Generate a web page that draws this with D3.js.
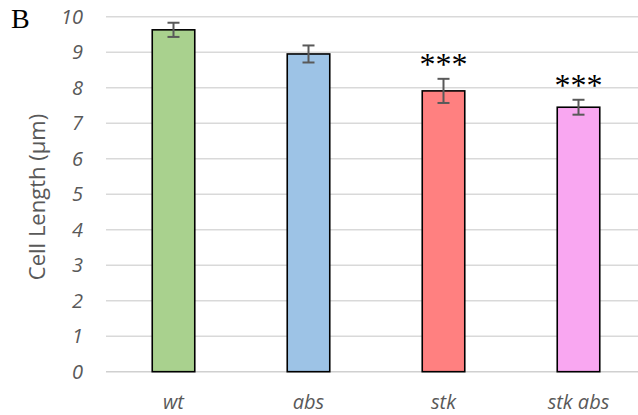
<!DOCTYPE html>
<html><head><meta charset="utf-8">
<script src="https://cdn.jsdelivr.net/npm/d3@7"></script>
<style>html,body{margin:0;padding:0;background:#fff;}</style>
</head><body>
<svg id="c" width="638" height="415"></svg>
<script>
const categories = ["wt", "abs", "stk", "stk abs"];
const values = [9.63, 8.95, 7.91, 7.45];
const errors = [0.20, 0.24, 0.34, 0.21];
const significance = ["", "", "***", "***"];
const colors = ["#a9d18e", "#9dc3e6", "#ff8080", "#f9a7f1"];
const yTicks = [0,1,2,3,4,5,6,7,8,9,10];

const svg = d3.select("#c");
const x = d3.scaleBand().domain(categories).range([106, 646]).paddingInner(0.685).paddingOuter(0.3425);
const y = d3.scaleLinear().domain([0, 10]).range([371.7, 16.7]);

// gridlines
svg.append("g").selectAll("line").data(yTicks).join("line")
  .attr("x1", 106).attr("x2", 646)
  .attr("y1", d => y(d)).attr("y2", d => y(d))
  .attr("stroke", d => d === 0 ? "#d0d0d0" : "#d9d9d9").attr("stroke-width", 1.5);

// y tick labels
svg.append("g").selectAll("text").data(yTicks).join("text")
  .attr("x", 83).attr("y", d => y(d)).attr("dy", "0.36em")
  .attr("text-anchor", "end")
  .style("font-family", "'Open Sans', sans-serif").style("font-style", "italic")
  .style("font-size", "20px").attr("fill", "#595959")
  .text(d => d);

// bars
svg.append("g").selectAll("rect").data(categories).join("rect")
  .attr("x", d => x(d)).attr("width", x.bandwidth())
  .attr("y", (d,i) => y(values[i])).attr("height", (d,i) => y(0) - y(values[i]))
  .attr("fill", (d,i) => colors[i]).attr("stroke", "#000").attr("stroke-width", 1.6);

// error bars
const eb = svg.append("g").attr("stroke", "#595959").attr("stroke-width", 2);
categories.forEach((c, i) => {
  const cx = x(c) + x.bandwidth()/2;
  eb.append("line").attr("x1", cx).attr("x2", cx).attr("y1", y(values[i]+errors[i])).attr("y2", y(values[i]-errors[i]));
  eb.append("line").attr("x1", cx-6).attr("x2", cx+6).attr("y1", y(values[i]+errors[i])).attr("y2", y(values[i]+errors[i]));
  eb.append("line").attr("x1", cx-6).attr("x2", cx+6).attr("y1", y(values[i]-errors[i])).attr("y2", y(values[i]-errors[i]));
});

// significance stars
svg.append("g").selectAll("text").data(categories).join("text")
  .attr("x", d => x(d) + x.bandwidth()/2)
  .attr("y", (d,i) => y(values[i]+errors[i]) - 4)
  .attr("text-anchor", "middle")
  .style("font-family", "'Liberation Serif', 'Times New Roman', serif")
  .style("font-size", "32px").attr("fill", "#000")
  .text((d,i) => significance[i]);

// x labels
svg.append("g").selectAll("text").data(categories).join("text")
  .attr("x", d => x(d) + x.bandwidth()/2).attr("y", 409)
  .attr("text-anchor", "middle")
  .style("font-family", "'Open Sans', sans-serif").style("font-style", "italic")
  .style("font-size", "20px").attr("fill", "#595959")
  .text(d => d);

// y axis title
svg.append("text")
  .attr("transform", "translate(45,197) rotate(-90)")
  .attr("text-anchor", "middle")
  .style("font-family", "'Open Sans', sans-serif")
  .style("font-size", "22px").attr("fill", "#595959")
  .text("Cell Length (µm)");

// panel letter
svg.append("text").attr("x", 11).attr("y", 28)
  .style("font-family", "'Liberation Serif', 'Times New Roman', serif")
  .style("font-size", "28px").attr("fill", "#000")
  .text("B");
</script>
</body></html>
